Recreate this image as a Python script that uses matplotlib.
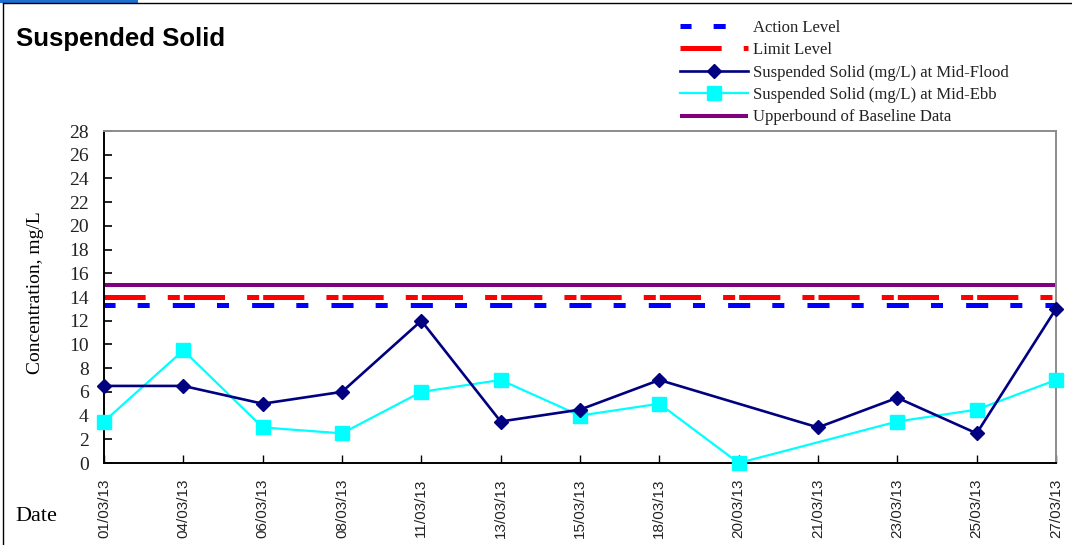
import numpy as np
import matplotlib
matplotlib.use("Agg")
import matplotlib.pyplot as plt
from matplotlib.patches import Rectangle
from matplotlib.lines import Line2D

# ── data ────────────────────────────────────────────────────────────────────
dates = ["01/03/13", "04/03/13", "06/03/13", "08/03/13", "11/03/13", "13/03/13",
         "15/03/13", "18/03/13", "20/03/13", "21/03/13", "23/03/13", "25/03/13",
         "27/03/13"]
mid_flood = [6.5, 6.5, 5.0, 6.0, 12.0, 3.5, 4.5, 7.0, np.nan, 3.0, 5.5, 2.5, 13.0]
mid_ebb = [3.5, 9.5, 3.0, 2.5, 6.0, 7.0, 4.0, 5.0, 0.0, np.nan, 3.5, 4.5, 7.0]
action_level = [13.3] * len(dates)
limit_level = [14.0] * len(dates)
baseline_upper = [15.0] * len(dates)
yticks = list(range(0, 29, 2))

W, H, DPI = 1072, 545, 100
plt.rcParams["font.family"] = ["Liberation Serif", "DejaVu Serif"]
plt.rcParams["lines.scale_dashes"] = False

fig = plt.figure(figsize=(W / DPI, H / DPI), dpi=DPI)
L, R, T, B = 104, 1056, 131, 463
ax = fig.add_axes([L / W, 1 - B / H, (R - L) / W, (B - T) / H])

x = np.arange(len(dates))
# dash patterns repeat once per category (Excel restarts them at each point)
step_pt = (R - L) / (len(dates) - 1) / 79.0 * 72 / DPI
blue_dash = (11 * step_pt, [d * step_pt for d in (22, 22, 12, 23)])
red_dash = (0, [d * step_pt for d in (41, 22, 12, 4)])

ax.plot(x, action_level, color="#0000FF", lw=3.6, linestyle=blue_dash,
        dash_capstyle="butt", label="Action Level")
ax.plot(x, limit_level, color="#FF0000", lw=3.6, linestyle=red_dash,
        dash_capstyle="butt", label="Limit Level")

fl = np.array(mid_flood)
eb = np.array(mid_ebb)
mf, me = ~np.isnan(fl), ~np.isnan(eb)
ax.plot(x[mf], fl[mf], color="#000080", lw=1.9, marker="D", ms=7.4,
        mec="#000080", clip_on=False, zorder=5,
        label="Suspended Solid (mg/L) at Mid-Flood")
ax.plot(x[me], eb[me], color="#00FFFF", lw=1.6, marker="s", ms=10,
        mec="#00FFFF", clip_on=False, zorder=4,
        label="Suspended Solid (mg/L) at Mid-Ebb")
ax.plot(x, baseline_upper, color="#800080", lw=2.9, solid_capstyle="butt",
        label="Upperbound of Baseline Data")

ax.set_xlim(0, len(dates) - 1)
ax.set_ylim(0, 28)
ax.set_yticks(yticks)
ax.set_yticklabels([str(v) for v in yticks], fontsize=14)
ax.set_xticks(x)
ax.set_xticklabels(dates, rotation=90, fontsize=11, family="Liberation Sans",
                   color="#222222")
ax.tick_params(axis="y", direction="in", length=6, width=1.2, pad=11,
               colors="black", labelcolor="#222222")
ax.tick_params(axis="x", direction="in", length=6, width=1.0, pad=11)

for s in ("left", "bottom"):
    ax.spines[s].set_color("black")
    ax.spines[s].set_linewidth(1.4)
for s in ("top", "right"):
    ax.spines[s].set_color("#8c8c8c")
    ax.spines[s].set_linewidth(1.4)

fig.legend(loc="upper left", bbox_to_anchor=(680 / W, 1 - 20 / H),
           frameon=False, borderpad=0, borderaxespad=0, fontsize=12,
           handlelength=4.1, handletextpad=0.3, labelspacing=0.38,
           labelcolor="#222222")

fig.text(16 / W, 1 - 46 / H, "Suspended Solid", fontsize=18.5,
         fontweight="bold", family="Liberation Sans", va="baseline")
fig.text(36 / W, 1 - 293 / H, "Concentration, mg/L", fontsize=14,
         rotation=90, ha="center", va="center")
fig.text(15 / W, 1 - 521 / H, "Date", fontsize=16, va="baseline")

# outer frame of the screenshot
fig.add_artist(Line2D([3 / W, 3 / W], [0, 1 - 3 / H], color="black", lw=1.0))
fig.add_artist(Line2D([3 / W, 1], [1 - 3 / H, 1 - 3 / H], color="black", lw=1.0))
fig.add_artist(Rectangle((0, 1 - 2.5 / H), 138 / W, 2.5 / H, color="#1f6fd1",
                         lw=0))

fig.savefig("out.png", dpi=DPI)
